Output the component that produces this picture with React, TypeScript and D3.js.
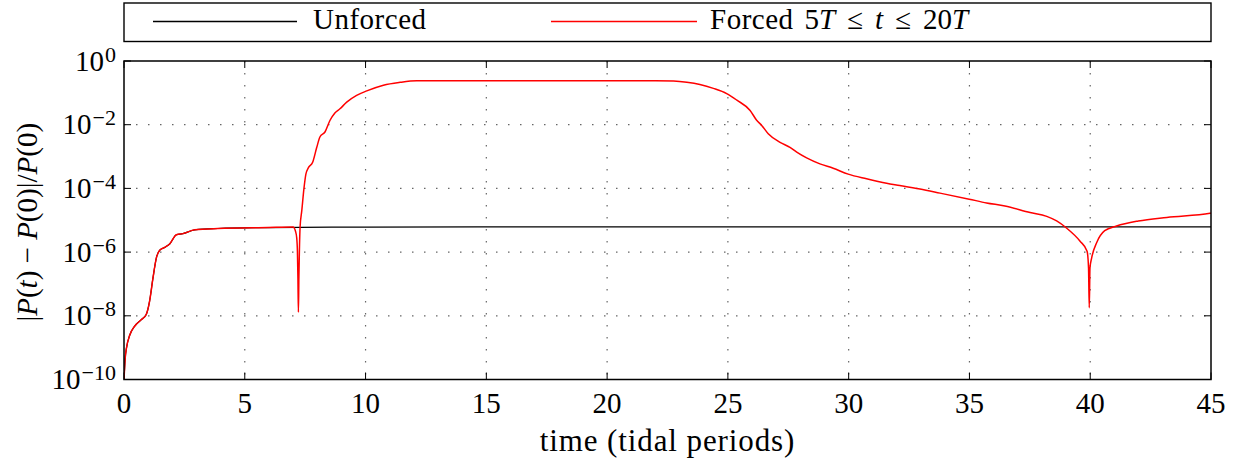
import React from "react";
import * as d3 from "d3";

// ---- data ----
const tUnforced = [0, 0.05, 0.1, 0.24, 0.44, 0.72, 0.92, 1.06, 1.2, 1.34, 1.48, 1.68, 1.89, 2.17, 2.44, 2.93, 3.89, 5.96, 10, 20, 30, 45];
const pUnforced = [1e-10, 4.7e-10, 9.5e-10, 2.5e-9, 4.7e-9, 7.6e-9, 1.1e-8, 2.9e-8, 1.55e-7, 6.6e-7, 1.15e-6, 1.4e-6, 1.8e-6, 3.5e-6, 3.8e-6, 5.0e-6, 5.5e-6, 5.9e-6, 6.1e-6, 6.2e-6, 6.2e-6, 6.2e-6];

const tForced = [0, 0.05, 0.1, 0.24, 0.44, 0.72, 0.92, 1.06, 1.2, 1.34, 1.48, 1.68, 1.89, 2.17, 2.44, 2.93, 3.89, 5.96, 7.0,
  7.1, 7.15, 7.18, 7.2, 7.22, 7.24, 7.26, 7.29, 7.36, 7.45, 7.53, 7.63, 7.81, 7.98, 8.11, 8.32, 8.53, 8.73, 8.94, 9.22, 9.63,
  10.05, 10.74, 11.43, 12.12, 13.5, 18, 22.0, 22.75, 23.3, 23.84, 24.4, 24.95, 25.37, 25.92, 26.19, 26.4, 26.67, 27.16, 27.57,
  27.85, 28.26, 28.81, 29.36, 29.98, 30.74, 31.57, 32.12, 32.95, 33.78, 34.99, 35.71, 36.47, 37.51, 38.2, 38.61, 39.03, 39.58,
  39.87, 39.93, 39.96, 39.99, 40.06, 40.27, 40.6, 41.09, 41.99, 43.17, 44.96, 45];
const pForced = [1e-10, 4.7e-10, 9.5e-10, 2.5e-9, 4.7e-9, 7.6e-9, 1.1e-8, 2.9e-8, 1.55e-7, 6.6e-7, 1.15e-6, 1.4e-6, 1.8e-6, 3.5e-6, 3.8e-6, 5.0e-6, 5.5e-6, 5.9e-6, 6.1e-6,
  4.5e-6, 2.8e-6, 1.0e-6, 1.6e-7, 1.3e-8, 1.6e-7, 1.0e-6, 6.2e-6, 2.0e-5, 1.0e-4, 2.8e-4, 4.4e-4, 6.6e-4, 1.95e-3, 4.1e-3, 5.9e-3, 0.0138, 0.0234, 0.0316, 0.051, 0.083,
  0.115, 0.174, 0.214, 0.24, 0.242, 0.242, 0.242, 0.235, 0.214, 0.182, 0.138, 0.095, 0.059, 0.028, 0.0138, 0.0095, 0.0052, 0.0028, 1.95e-3,
  1.38e-3, 9.1e-4, 5.9e-4, 4.3e-4, 2.8e-4, 2.0e-4, 1.45e-4, 1.23e-4, 9.5e-5, 7.1e-5, 4.6e-5, 3.5e-5, 2.8e-5, 1.74e-5, 1.32e-5, 9.5e-6, 5.6e-6, 2.2e-6,
  1.07e-6, 3.2e-7, 1.8e-8, 3.2e-7, 6.6e-7, 2.0e-6, 4.7e-6, 6.6e-6, 9.5e-6, 1.23e-5, 1.66e-5, 1.68e-5];

const xTicks = [0, 5, 10, 15, 20, 25, 30, 35, 40, 45];
const yTickExponents = [0, -2, -4, -6, -8, -10];

const FONT = "Liberation Serif, DejaVu Serif, serif";

export default function App() {
  const left = 124, right = 1211, top = 61, bottom = 379.5;
  const x = d3.scaleLinear().domain([0, 45]).range([left, right]);
  const y = d3.scaleLog().domain([1e-10, 1]).range([bottom, top]);

  const line = d3
    .line<[number, number]>()
    .x((d) => x(d[0]))
    .y((d) => y(d[1]))
    .curve(d3.curveMonotoneX);

  const unforced = line(tUnforced.map((t, i) => [t, pUnforced[i]]) as [number, number][]) || "";
  const forced = line(tForced.map((t, i) => [t, pForced[i]]) as [number, number][]) || "";

  const gridColor = "#666";
  const tick = 7;
  const txt = { fontFamily: FONT };

  return (
    <svg
      width={1238}
      height={464}
      style={{ position: "absolute", left: 0, top: 0, background: "#fff", fontFamily: FONT }}
    >
      <defs>
        <clipPath id="plotClip">
          <rect x={left} y={top} width={right - left} height={bottom - top} />
        </clipPath>
      </defs>

      {/* legend */}
      <rect x={left} y={3} width={right - left} height={38.5} fill="none" stroke="#000" strokeWidth={1.4} />
      <line x1={153} x2={297} y1={21.5} y2={21.5} stroke="#000" strokeWidth={1.3} />
      <text x={313} y={29} fontSize={29} fill="#000" style={txt} letterSpacing={0.5}>Unforced</text>
      <line x1={551} x2={697} y1={21.5} y2={21.5} stroke="red" strokeWidth={1.5} />
      <text x={710} y={29} fontSize={29} fill="#000" style={txt}>
        <tspan letterSpacing={0.5}>Forced</tspan>
        <tspan dx={11}>5</tspan>
        <tspan fontStyle="italic">T</tspan>
        <tspan dx={12}>≤</tspan>
        <tspan dx={12} fontStyle="italic">t</tspan>
        <tspan dx={12}>≤</tspan>
        <tspan dx={12}>20</tspan>
        <tspan fontStyle="italic">T</tspan>
      </text>

      {/* grid */}
      {xTicks.filter((t) => t > 0 && t < 45).map((t) => (
        <line key={"gx" + t} x1={x(t)} x2={x(t)} y1={top} y2={bottom} stroke={gridColor} strokeWidth={1.2} strokeDasharray="1.5,10.5" />
      ))}
      {yTickExponents.filter((e) => e < 0 && e > -10).map((e) => (
        <line key={"gy" + e} x1={left} x2={right} y1={y(Math.pow(10, e))} y2={y(Math.pow(10, e))} stroke={gridColor} strokeWidth={1.2} strokeDasharray="1.5,10.5" />
      ))}

      {/* ticks */}
      {xTicks.map((t) => (
        <g key={"tx" + t}>
          <line x1={x(t)} x2={x(t)} y1={bottom} y2={bottom - tick} stroke="#000" strokeWidth={1} />
          <line x1={x(t)} x2={x(t)} y1={top} y2={top + tick} stroke="#000" strokeWidth={1} />
          <text x={x(t)} y={413} fontSize={29} textAnchor="middle" fill="#000" style={txt}>{t}</text>
        </g>
      ))}
      {yTickExponents.map((e) => {
        const yy = y(Math.pow(10, e));
        return (
          <g key={"ty" + e}>
            <line x1={left} x2={left + tick} y1={yy} y2={yy} stroke="#000" strokeWidth={1} />
            <line x1={right} x2={right - tick} y1={yy} y2={yy} stroke="#000" strokeWidth={1} />
            <text x={116} y={yy + 9.5} fontSize={29} textAnchor="end" fill="#000" style={txt}>
              10<tspan fontSize={22} dy={-9} dx={1}>{e === 0 ? "0" : "−" + Math.abs(e)}</tspan>
            </text>
          </g>
        );
      })}

      {/* series */}
      <g clipPath="url(#plotClip)">
        <path d={unforced} fill="none" stroke="#000" strokeWidth={1.2} />
        <path d={forced} fill="none" stroke="red" strokeWidth={1.5} />
      </g>

      {/* frame */}
      <rect x={left} y={top} width={right - left} height={bottom - top} fill="none" stroke="#000" strokeWidth={1.5} />

      {/* axis labels */}
      <text x={(left + right) / 2} y={451} fontSize={31} textAnchor="middle" fill="#000" style={txt} letterSpacing={0.9}>time (tidal periods)</text>
      <text transform={`translate(37, ${(top + bottom) / 2 + 2}) rotate(-90)`} fontSize={29} textAnchor="middle" fill="#000" style={txt}>
        |<tspan fontStyle="italic">P</tspan>(<tspan fontStyle="italic">t</tspan>) − <tspan fontStyle="italic">P</tspan>(0)|/<tspan fontStyle="italic">P</tspan>(0)
      </text>
    </svg>
  );
}
